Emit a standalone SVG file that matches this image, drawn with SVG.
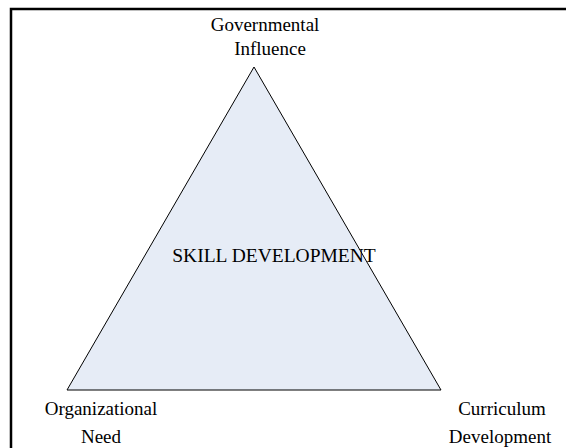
<svg xmlns="http://www.w3.org/2000/svg" width="566" height="448" viewBox="0 0 566 448">
<style>
text{font-family:"Liberation Serif","Times New Roman",serif;font-size:19px;fill:#000;text-anchor:middle}
.frame{fill:#fff;stroke:#000;stroke-width:2.5}
.tri{fill:#e6ecf6;stroke:#000;stroke-width:1}
</style>
<rect class="frame" x="11" y="9" width="600" height="500"/>
<g id="triangle">
<polygon class="tri" points="254,67 67,390 441,390"/>
<text id="center" x="274" y="262" style="font-size:19.5px">SKILL DEVELOPMENT</text>
</g>
<g id="top"><text x="265" y="31">Governmental</text><text x="270" y="55">Influence</text></g>
<g id="left"><text x="101" y="415">Organizational</text><text x="101" y="443">Need</text></g>
<g id="right"><text x="502" y="415">Curriculum</text><text x="500" y="443">Development</text></g>
<g id="connectors"></g>
</svg>
